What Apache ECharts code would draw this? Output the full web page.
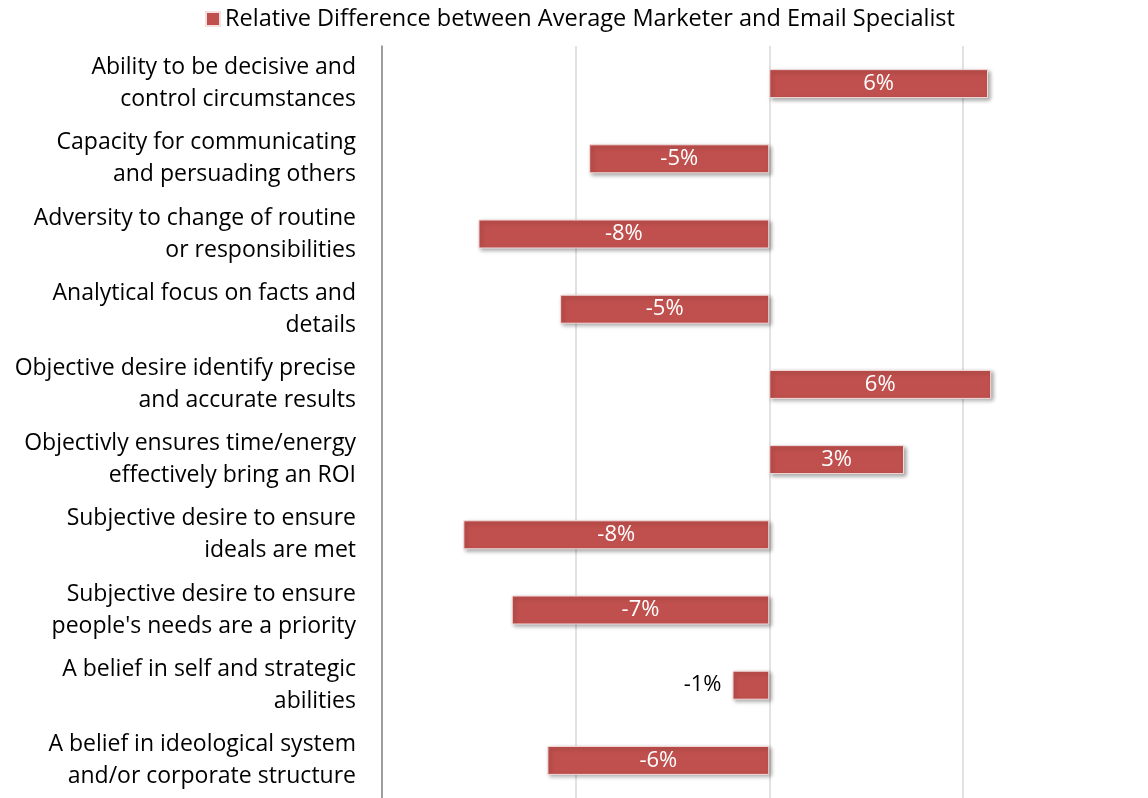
<!DOCTYPE html>
<html><head><meta charset="utf-8">
<script src="https://cdn.jsdelivr.net/npm/echarts@6/dist/echarts.min.js"></script>
<style>html,body{margin:0;padding:0;background:#fff}#c{width:1148px;height:798px}</style>
</head><body><div id="c"></div>
<script>
const categories = [
  "Ability to be decisive and\ncontrol circumstances",
  "Capacity for communicating\nand persuading others",
  "Adversity to change of routine\nor responsibilities",
  "Analytical focus on facts and\ndetails",
  "Objective desire identify precise\nand accurate results",
  "Objectivly ensures time/energy\neffectively bring an ROI",
  "Subjective desire to ensure\nideals are met",
  "Subjective desire to ensure\npeople's needs are a priority",
  "A belief in self and strategic\nabilities",
  "A belief in ideological system\nand/or corporate structure"
];
const seriesName = "Relative Difference between Average Marketer and Email Specialist";
const values = [0.0565, -0.0465, -0.0751, -0.054, 0.0573, 0.0348, -0.079, -0.0665, -0.0095, -0.0573];

const FONT = "Open Sans";
const chart = echarts.init(document.getElementById('c'));
const data = values.map(v => Math.abs(v) < 0.02
  ? { value: v, label: { position: 'left', color: '#000' } }
  : { value: v });
chart.setOption({
  animation: false,
  textStyle: { fontFamily: FONT },
  legend: {
    left: 200, top: 2, icon: 'rect', itemWidth: 14, itemHeight: 14, itemGap: 5,
    textStyle: { fontFamily: FONT, fontSize: 23.5, color: '#000' },
    data: [seriesName]
  },
  grid: { left: 382, top: 46, right: 0, height: 754, containLabel: false },
  xAxis: {
    type: 'value', min: -0.1, max: 0.0978, interval: 0.05,
    axisLabel: { show: false }, axisLine: { show: false }, axisTick: { show: false },
    splitLine: { showMaxLine: false, lineStyle: { color: '#d9d9d9', width: 1.5 } }
  },
  yAxis: {
    type: 'category', data: categories, inverse: true,
    axisLine: { onZero: false, lineStyle: { color: '#868686', width: 1.5 } },
    axisTick: { show: false },
    axisLabel: { fontFamily: FONT, fontSize: 23, color: '#000', align: 'right', margin: 26, lineHeight: 32 }
  },
  series: [{
    name: seriesName, type: 'bar', data: data, barWidth: 29,
    itemStyle: { color: '#C0504D', borderColor: '#f4dede', borderWidth: 1,
      shadowColor: 'rgba(0,0,0,0.35)', shadowBlur: 4, shadowOffsetX: 2, shadowOffsetY: 2 },
    label: { show: true, position: 'inside', color: '#fff', fontFamily: FONT, fontSize: 22,
      distance: 11, formatter: p => Math.round(p.value * 100) + '%' }
  }]
});
</script></body></html>
